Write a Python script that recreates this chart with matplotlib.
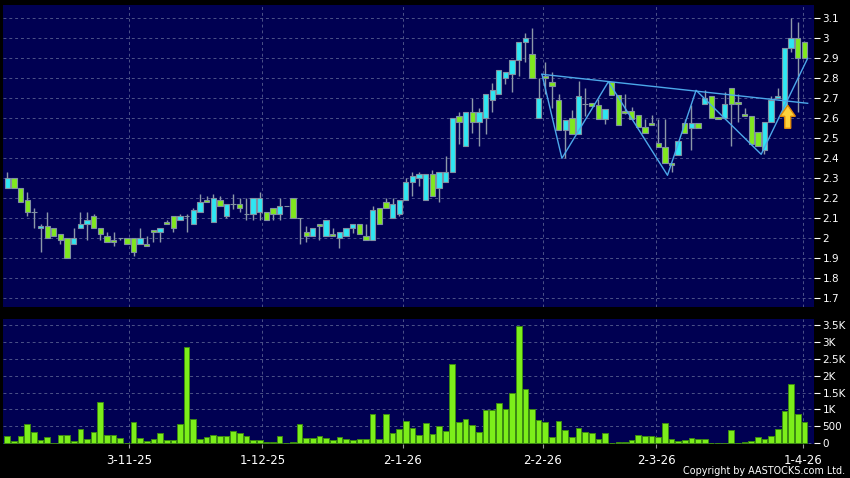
import matplotlib
matplotlib.use("Agg")
import matplotlib.pyplot as plt
import numpy as np
from matplotlib.patches import FancyArrow

# ---------------- data ----------------
opens = [2.25, 2.30, 2.25, 2.19, 2.13, 2.05, 2.06, 2.05, 2.02, 2.00,
         1.97, 2.05, 2.07, 2.11, 2.05, 2.01, 1.99, 2.00, 2.00, 2.00,
         1.97, 1.97, 2.04, 2.03, 2.08, 2.11, 2.09, 2.11, 2.07, 2.13,
         2.19, 2.08, 2.19, 2.11, 2.17, 2.17, 2.12, 2.12, 2.13, 2.13,
         2.15, 2.12, 2.16, 2.20, 2.10, 2.03, 2.01, 2.07, 2.01, 2.02,
         2.00, 2.01, 2.05, 2.07, 2.01, 1.99, 2.15, 2.18, 2.10, 2.12,
         2.19, 2.28, 2.30, 2.19, 2.32, 2.25, 2.28, 2.33, 2.61, 2.46,
         2.63, 2.58, 2.60, 2.69, 2.72, 2.80, 2.82, 2.89, 2.98, 2.92,
         2.60, 2.81, 2.78, 2.69, 2.54, 2.60, 2.52, 2.67, 2.675, 2.665,
         2.595, 2.78, 2.715, 2.635, 2.635, 2.615, 2.555, 2.575, 2.475, 2.455,
         2.375, 2.415, 2.575, 2.55, 2.578, 2.67, 2.71, 2.605, 2.60, 2.75,
         2.68, 2.62, 2.61, 2.53, 2.44, 2.58, 2.70, 2.62, 2.95, 3.00,
         2.98]
closes = [2.30, 2.25, 2.18, 2.13, 2.13, 2.06, 2.00, 2.01, 1.99, 1.90,
          2.00, 2.07, 2.09, 2.05, 2.02, 1.98, 1.98, 2.00, 1.97, 1.93,
          2.00, 1.96, 2.03, 2.05, 2.07, 2.05, 2.11, 2.11, 2.14, 2.18,
          2.18, 2.20, 2.16, 2.17, 2.17, 2.15, 2.12, 2.20, 2.20, 2.09,
          2.12, 2.16, 2.16, 2.10, 2.10, 2.01, 2.05, 2.06, 2.09, 2.01,
          2.03, 2.05, 2.07, 2.02, 1.99, 2.14, 2.07, 2.15, 2.17, 2.19,
          2.28, 2.31, 2.32, 2.32, 2.21, 2.33, 2.33, 2.60, 2.58, 2.63,
          2.58, 2.63, 2.72, 2.74, 2.84, 2.83, 2.89, 2.98, 3.00, 2.80,
          2.70, 2.80, 2.76, 2.54, 2.59, 2.52, 2.71, 2.67, 2.66, 2.595,
          2.645, 2.715, 2.565, 2.625, 2.595, 2.555, 2.525, 2.565, 2.455, 2.375,
          2.365, 2.485, 2.525, 2.578, 2.55, 2.70, 2.60, 2.595, 2.67, 2.67,
          2.67, 2.61, 2.47, 2.46, 2.58, 2.69, 2.71, 2.95, 3.00, 2.90,
          2.90]
highs = [2.33, 2.30, 2.25, 2.23, 2.15, 2.07, 2.13, 2.05, 2.02, 2.00,
         2.05, 2.13, 2.13, 2.12, 2.05, 2.03, 2.03, 2.00, 2.00, 2.00,
         2.05, 2.01, 2.04, 2.05, 2.09, 2.11, 2.12, 2.12, 2.15, 2.22,
         2.21, 2.22, 2.21, 2.17, 2.22, 2.20, 2.20, 2.20, 2.23, 2.13,
         2.15, 2.20, 2.16, 2.20, 2.10, 2.06, 2.05, 2.07, 2.09, 2.05,
         2.03, 2.05, 2.07, 2.07, 2.07, 2.16, 2.15, 2.20, 2.20, 2.19,
         2.30, 2.33, 2.33, 2.32, 2.34, 2.33, 2.41, 2.60, 2.63, 2.63,
         2.70, 2.65, 2.72, 2.775, 2.84, 2.83, 2.89, 2.98, 3.025, 3.05,
         2.80, 2.88, 2.83, 2.72, 2.59, 2.64, 2.785, 2.75, 2.675, 2.695,
         2.645, 2.78, 2.715, 2.72, 2.655, 2.615, 2.595, 2.615, 2.595, 2.595,
         2.375, 2.485, 2.595, 2.667, 2.578, 2.74, 2.71, 2.605, 2.73, 2.75,
         2.72, 2.65, 2.61, 2.53, 2.58, 2.71, 2.75, 2.95, 3.10, 3.08,
         2.985]
lows = [2.25, 2.25, 2.18, 2.11, 2.05, 1.93, 2.00, 2.01, 1.97, 1.90,
        1.97, 2.05, 1.99, 2.05, 1.99, 1.98, 1.96, 1.99, 1.97, 1.91,
        1.97, 1.96, 1.98, 1.98, 2.07, 2.03, 2.09, 2.03, 2.07, 2.13,
        2.18, 2.08, 2.16, 2.10, 2.145, 2.13, 2.09, 2.09, 2.09, 2.09,
        2.09, 2.09, 2.16, 2.10, 1.97, 1.98, 2.01, 1.99, 2.01, 2.01,
        1.95, 2.01, 2.025, 2.02, 1.99, 1.99, 2.07, 2.15, 2.10, 2.11,
        2.19, 2.21, 2.26, 2.19, 2.21, 2.18, 2.28, 2.33, 2.47, 2.46,
        2.525, 2.46, 2.52, 2.63, 2.72, 2.77, 2.73, 2.81, 2.88, 2.80,
        2.60, 2.72, 2.65, 2.54, 2.40, 2.52, 2.52, 2.61, 2.66, 2.595,
        2.57, 2.715, 2.565, 2.62, 2.595, 2.555, 2.525, 2.565, 2.455, 2.375,
        2.33, 2.415, 2.525, 2.44, 2.55, 2.67, 2.60, 2.595, 2.60, 2.46,
        2.58, 2.61, 2.47, 2.46, 2.42, 2.58, 2.70, 2.60, 2.93, 2.63,
        2.90]
volumes = [230, 69, 217, 572, 335, 89, 197, 10, 237, 256,
           69, 434, 138, 345, 1213, 246, 237, 158, 5, 621,
           158, 69, 128, 296, 89, 99, 562, 2859, 720, 128,
           187, 237, 227, 227, 355, 306, 217, 108, 108, 39,
           39, 217, 5, 39, 567, 148, 148, 227, 168, 108,
           177, 128, 108, 128, 138, 877, 118, 868, 296, 414,
           670, 463, 237, 592, 276, 503, 355, 2337, 631, 730,
           542, 345, 976, 996, 1203, 1025, 1499, 3480, 1607, 1016,
           690, 641, 177, 670, 394, 197, 454, 335, 316, 118,
           306, 0, 49, 39, 99, 256, 217, 217, 187, 592,
           118, 69, 89, 148, 138, 138, 20, 0, 20, 385,
           10, 49, 59, 177, 128, 227, 434, 947, 1765, 868,
           631]

date_labels = ["3-11-25", "1-12-25", "2-1-26", "2-2-26", "2-3-26", "1-4-26"]
date_pos = [18.3, 38.4, 59.5, 80.6, 97.7, 119.8]
price_ticks = [1.7, 1.8, 1.9, 2.0, 2.1, 2.2, 2.3, 2.4, 2.5, 2.6, 2.7, 2.8, 2.9, 3.0, 3.1]
vol_ticks = [0, 500, 1000, 1500, 2000, 2500, 3000, 3500]
vol_labels = ["0", "500", "1K", "1.5K", "2K", "2.5K", "3K", "3.5K"]

# drawn pattern lines (index, price)
pattern_x = [80.5, 83.5, 90.5, 99.4, 103.7, 113.5, 120.5]
pattern_y = [2.82, 2.40, 2.783, 2.315, 2.74, 2.42, 2.90]
neck_x = [80.5, 120.5]
neck_y = [2.82, 2.675]
arrow_x = 117.5
arrow_base = 2.55
arrow_tip = 2.665

# ---------------- style ----------------
BG_FIG = "black"
BG_AX = "#000052"
UP = "#2FE6F2"
DOWN = "#80E81E"
EDGE = "#8090A2"
WICK = "#8C98A8"
GRID = "#4C5288"
VOL = "#7CEE1A"
VOL_EDGE = "#3C8A12"
LINE = "#4CA8EA"

W, H = 850, 478
fig = plt.figure(figsize=(W / 100, H / 100), dpi=100, facecolor=BG_FIG)
ax1 = fig.add_axes([3 / W, (H - 307) / H, 811.3 / W, 302 / H])
ax2 = fig.add_axes([3 / W, (H - 444) / H, 811.3 / W, 125 / H])

n = len(opens)
x = np.arange(n)
o = np.array(opens); c = np.array(closes)
hi = np.array(highs); lo = np.array(lows)
colors = [UP if cc > oo else DOWN for oo, cc in zip(o, c)]

for ax in (ax1, ax2):
    ax.set_facecolor(BG_AX)
    for s in ax.spines.values():
        s.set_visible(False)
    ax.set_axisbelow(True)
    ax.grid(True, color=GRID, linestyle=(0, (3, 3)), linewidth=0.7)
    ax.set_xlim(-0.65, 121.5)
    ax.set_xticks(date_pos)
    ax.yaxis.tick_right()
    ax.tick_params(axis="y", colors="white", length=4, width=0.8, pad=2,
                   labelsize=7.5, direction="out")

# candles
ax1.vlines(x, lo, hi, color=WICK, linewidth=1.0, zorder=2)
bottoms = np.minimum(o, c)
heights = np.abs(c - o)
ax1.bar(x, heights, bottom=bottoms, width=0.8, color=colors,
        edgecolor=EDGE, linewidth=0.8, zorder=3)

# pattern lines
ax1.plot(pattern_x, pattern_y, color=LINE, linewidth=1.0, zorder=4)
ax1.plot(neck_x, neck_y, color=LINE, linewidth=1.0, zorder=4)

arr = FancyArrow(arrow_x, arrow_base, 0, arrow_tip - arrow_base, width=0.9,
                 head_width=2.3, head_length=0.055, length_includes_head=True,
                 facecolor="#FFD23C", edgecolor="#E08A0A", linewidth=1.0, zorder=6)
ax1.add_patch(arr)

ax1.set_ylim(1.6565, 3.1665)
ax1.set_yticks(price_ticks)
ax1.set_yticklabels([f"{t:g}" for t in price_ticks])
ax1.tick_params(axis="x", length=0, labelbottom=False)

# volume
ax2.bar(x, volumes, width=0.85, color=VOL, edgecolor=VOL_EDGE, linewidth=0.7, zorder=3)
ax2.set_ylim(-21, 3677)
ax2.set_yticks(vol_ticks)
ax2.set_yticklabels(vol_labels)
ax2.set_xticklabels(date_labels)
ax2.tick_params(axis="x", colors="#9A9A9A", labelcolor="white", length=3,
                width=0.8, pad=4, labelsize=8.5)

fig.text(845 / W, 3.5 / H, "Copyright by AASTOCKS.com Ltd.", color="white",
         fontsize=6.9, ha="right", va="baseline")

fig.savefig("out.png", dpi=100, facecolor=BG_FIG)
